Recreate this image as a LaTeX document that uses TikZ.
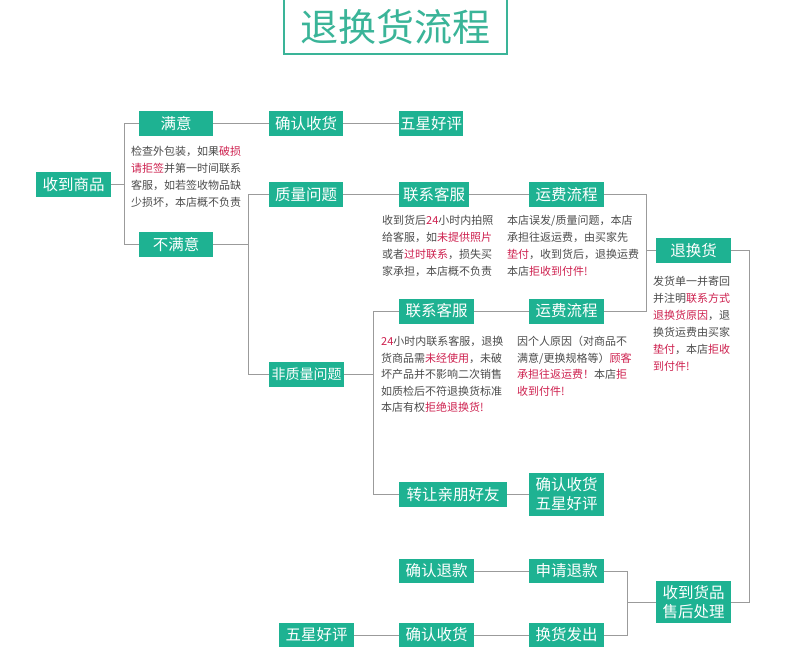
\documentclass[tikz,border=0pt]{standalone}
\usepackage{fontspec}
\setmainfont{Noto Sans CJK SC}
\definecolor{boxteal}{RGB}{30,178,146}
\definecolor{titleteal}{RGB}{58,180,152}
\definecolor{linegrey}{RGB}{155,155,155}
\definecolor{bodygrey}{RGB}{75,75,75}
\definecolor{redc}{RGB}{205,32,78}
\newcommand{\redtxt}[1]{\textcolor{redc}{#1}}
\tikzset{
  tbox/.style={fill=boxteal, text=white, inner sep=0pt, minimum height=25pt, minimum width=75pt,
    font=\fontsize{15.5}{20}\selectfont, align=center},
  note/.style={anchor=north west, inner sep=0pt, text=bodygrey, align=left,
    font=\fontsize{11}{17}\selectfont},
  notetwo/.style={note, font=\fontsize{11}{16.5}\selectfont},
  conn/.style={draw=linegrey, line width=1pt}
}
\begin{document}
\begin{tikzpicture}[x=1pt,y=-1pt]
\useasboundingbox (0,0) rectangle (790,647);
% title
\draw[titleteal, line width=1.5pt] (284,-3) rectangle (507,54);
\node[text=titleteal, font=\fontsize{38}{40}\selectfont, inner sep=0pt] (title) at (395.5,27) {退换货流程};

% nodes
\node[tbox] (sd) at (73.5,184.5) {收到商品};
\node[tbox, minimum width=74pt] (my) at (176,123.5) {满意};
\node[tbox, minimum width=74pt] (bmy) at (176,244.5) {不满意};
\node[tbox, minimum width=74pt] (qr1) at (306,123.5) {确认收货};
\node[tbox, minimum width=64pt] (wx1) at (431,123.5) {五星好评};
\node[tbox, minimum width=74pt] (zl) at (306,194.5) {质量问题};
\node[tbox, minimum width=70pt] (lx1) at (434,194.5) {联系客服};
\node[tbox] (yf1) at (566.5,194.5) {运费流程};
\node[tbox] (thh) at (693.5,250.5) {退换货};
\node[tbox, font=\fontsize{14}{18}\selectfont] (fzl) at (306.5,374.5) {非质量问题};
\node[tbox] (lx2) at (436.5,311) {联系客服};
\node[tbox] (yf2) at (566.5,311) {运费流程};
\node[tbox, minimum width=108pt] (zr) at (453,494.5) {转让亲朋好友};
\node[tbox, minimum height=43pt] (qw) at (566.5,494.5) {确认收货\\[-1pt]五星好评};
\node[tbox, minimum height=42pt] (sh) at (693.5,602) {收到货品\\[-1pt]售后处理};
\node[tbox, minimum height=24pt] (sq) at (566.5,571) {申请退款};
\node[tbox, minimum height=24pt] (qt) at (436.5,571) {确认退款};
\node[tbox, minimum height=24pt] (hh) at (566.5,635) {换货发出};
\node[tbox, minimum height=24pt] (qr3) at (436.5,635) {确认收货};
\node[tbox, minimum height=24pt] (wx3) at (316.5,635) {五星好评};

% notes
\node[note] (n1) at (131,146) {检查外包装，如果\redtxt{破损}\\\redtxt{请拒签}并第一时间联系\\客服，如若签收物品缺\\少损坏，本店概不负责};
\node[note] (n2) at (382,215) {收到货后\redtxt{24}小时内拍照\\给客服，如\redtxt{未提供照片}\\或者\redtxt{过时联系}，损失买\\家承担，本店概不负责};
\node[note] (n3) at (507,215) {本店误发/质量问题，本店\\承担往返运费，由买家先\\\redtxt{垫付}，收到货后，退换运费\\本店\redtxt{拒收到付件!}};
\node[notetwo] (n4) at (381,336) {\redtxt{24}小时内联系客服，退换\\货商品需\redtxt{未经使用}，未破\\坏产品并不影响二次销售\\如质检后不符退换货标准\\本店有权\redtxt{拒绝退换货!}};
\node[notetwo] (n5) at (517,336) {因个人原因（对商品不\\满意/更换规格等）\redtxt{顾客}\\\redtxt{承担往返运费！}本店\redtxt{拒}\\\redtxt{收到付件!}};
\node[note] (n6) at (653,276) {发货单一并寄回\\并注明\redtxt{联系方式}\\\redtxt{退换货原因}，退\\换货运费由买家\\\redtxt{垫付}，本店\redtxt{拒收}\\\redtxt{到付件!}};

% junction coordinates
\coordinate (j0) at (124,184.5);
\coordinate (j1) at (248,244.5);
\coordinate (j2) at (646,250.5);
\coordinate (j3) at (749,250.5);
\coordinate (j4) at (373,374.5);
\coordinate (j5) at (627,602);

% connectors
\draw[conn] (sd.east) -- (j0);
\draw[conn] (my.west) -| (j0);
\draw[conn] (bmy.west) -| (j0);
\draw[conn] (my.east) -- (qr1.west);
\draw[conn] (qr1.east) -- (wx1.west);
\draw[conn] (bmy.east) -- (j1);
\draw[conn] (zl.west) -| (j1);
\draw[conn] (fzl.west) -| (j1);
\draw[conn] (zl.east) -- (lx1.west);
\draw[conn] (lx1.east) -- (yf1.west);
\draw[conn] (yf1.east) -| (j2);
\draw[conn] (yf2.east) -| (j2);
\draw[conn] (j2) -- (thh.west);
\draw[conn] (thh.east) -- (j3) |- (sh.east);
\draw[conn] (fzl.east) -- (j4);
\draw[conn] (lx2.west) -| (j4);
\draw[conn] (zr.west) -| (j4);
\draw[conn] (lx2.east) -- (yf2.west);
\draw[conn] (zr.east) -- (qw.west);
\draw[conn] (sh.west) -- (j5);
\draw[conn] (sq.east) -| (j5);
\draw[conn] (hh.east) -| (j5);
\draw[conn] (sq.west) -- (qt.east);
\draw[conn] (hh.west) -- (qr3.east);
\draw[conn] (qr3.west) -- (wx3.east);
\end{tikzpicture}
\end{document}
